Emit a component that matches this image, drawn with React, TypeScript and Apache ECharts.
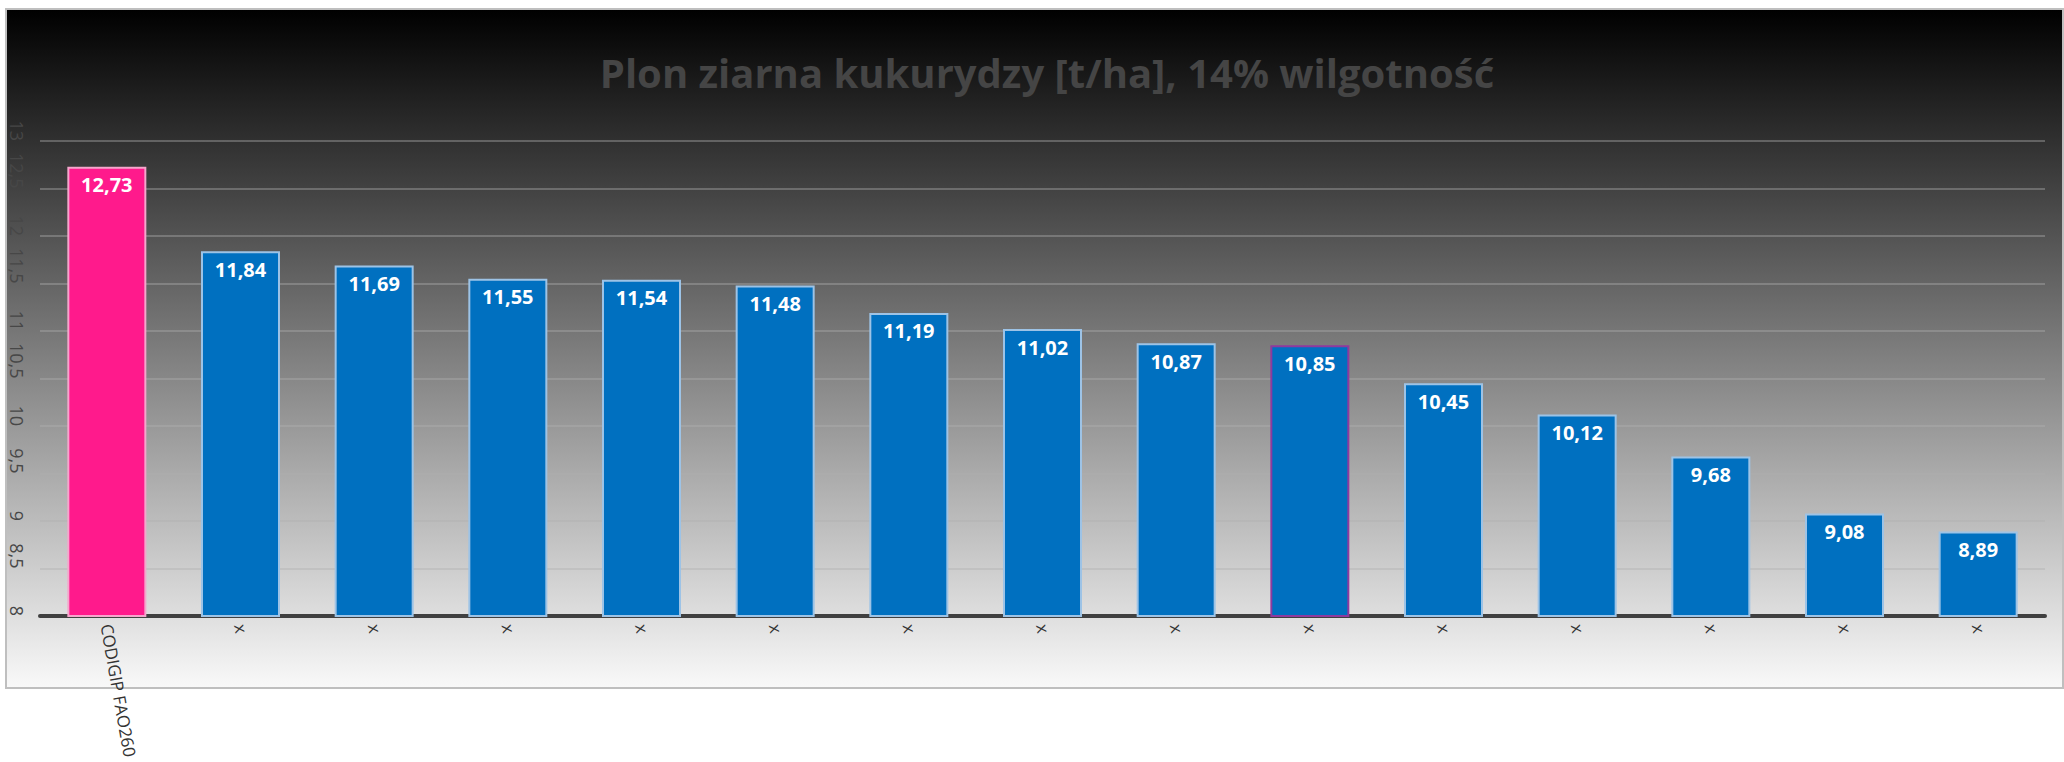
import React, { useEffect, useRef } from "react";
import * as echarts from "echarts";

const title = "Plon ziarna kukurydzy [t/ha], 14% wilgotność";
const categories = [
  "CODIGIP FAO260", "x", "x", "x", "x", "x", "x", "x", "x", "x", "x", "x", "x", "x", "x",
];
const values = [12.73, 11.84, 11.69, 11.55, 11.54, 11.48, 11.19, 11.02, 10.87, 10.85, 10.45, 10.12, 9.68, 9.08, 8.89];
const highlightIndex = 0;
const outlinedIndex = 9;
const yMin = 8;
const yMax = 13;
const yStep = 0.5;

const PINK = "#FF1A8C";
const BLUE = "#0070C0";
const FONT = "'Open Sans', sans-serif";

export default function App() {
  const ref = useRef<HTMLDivElement>(null);
  useEffect(() => {
    if (!ref.current) return;
    const chart = echarts.init(ref.current, undefined, { renderer: "svg" });
    const data = values.map((v, i) => ({
      value: v,
      itemStyle: {
        color: i === highlightIndex ? PINK : BLUE,
        borderColor: i === highlightIndex ? "#F5A6CC" : i === outlinedIndex ? "#8E3A9E" : "#9DC3E6",
      },
    }));
    chart.setOption({
      animation: false,
      backgroundColor: "#ffffff",
      graphic: [
        {
          type: "rect",
          z: -10,
          silent: true,
          shape: { x: 6, y: 9, width: 2057, height: 679 },
          style: {
            fill: new echarts.graphic.LinearGradient(0, 0, 0, 1, [
              { offset: 0, color: "#000000" },
              { offset: 1, color: "#f9f9f9" },
            ]),
            stroke: "#bfbfbf",
            lineWidth: 2,
          },
        },
      ],
      title: {
        text: title,
        left: 1042,
        textAlign: "center",
        top: 47,
        textStyle: {
          fontFamily: FONT,
          fontWeight: "bold",
          fontSize: 40,
          color: "#454545",
        },
      },
      grid: {
        left: 40,
        right: 19,
        top: 141,
        bottom: 146,
        containLabel: false,
        outerBoundsMode: "none",
      },
      xAxis: {
        type: "category",
        data: categories,
        axisLine: { show: true, lineStyle: { color: "#404040", width: 4 } },
        axisTick: { show: false },
        axisLabel: {
          interval: 0,
          rotate: -80,
          margin: 8,
          fontFamily: FONT,
          fontSize: 17,
          color: "#333333",
          hideOverlap: false,
        },
      },
      yAxis: {
        type: "value",
        min: yMin,
        max: yMax,
        interval: yStep,
        axisLine: { show: false },
        axisTick: { show: false },
        splitLine: { show: true, lineStyle: { color: "rgba(176,176,176,0.4)", width: 2 } },
        axisLabel: {
          rotate: -90,
          align: "right",
          verticalAlign: "middle",
          margin: 23,
          fontFamily: FONT,
          fontSize: 18,
          color: "#474747",
          formatter: (v: number) => String(v).replace(".", ","),
        },
      },
      series: [
        {
          type: "bar",
          data,
          barWidth: 79,
          itemStyle: { borderWidth: 2 },
          label: {
            show: true,
            position: "insideTop",
            distance: 8,
            fontFamily: FONT,
            fontWeight: "bold",
            fontSize: 20,
            color: "#ffffff",
            formatter: (p: any) => Number(p.value).toFixed(2).replace(".", ","),
          },
        },
      ],
    });
    return () => chart.dispose();
  }, []);
  return (
    <div
      ref={ref}
      style={{ position: "fixed", left: 0, top: 0, width: 2064, height: 762 }}
    />
  );
}
